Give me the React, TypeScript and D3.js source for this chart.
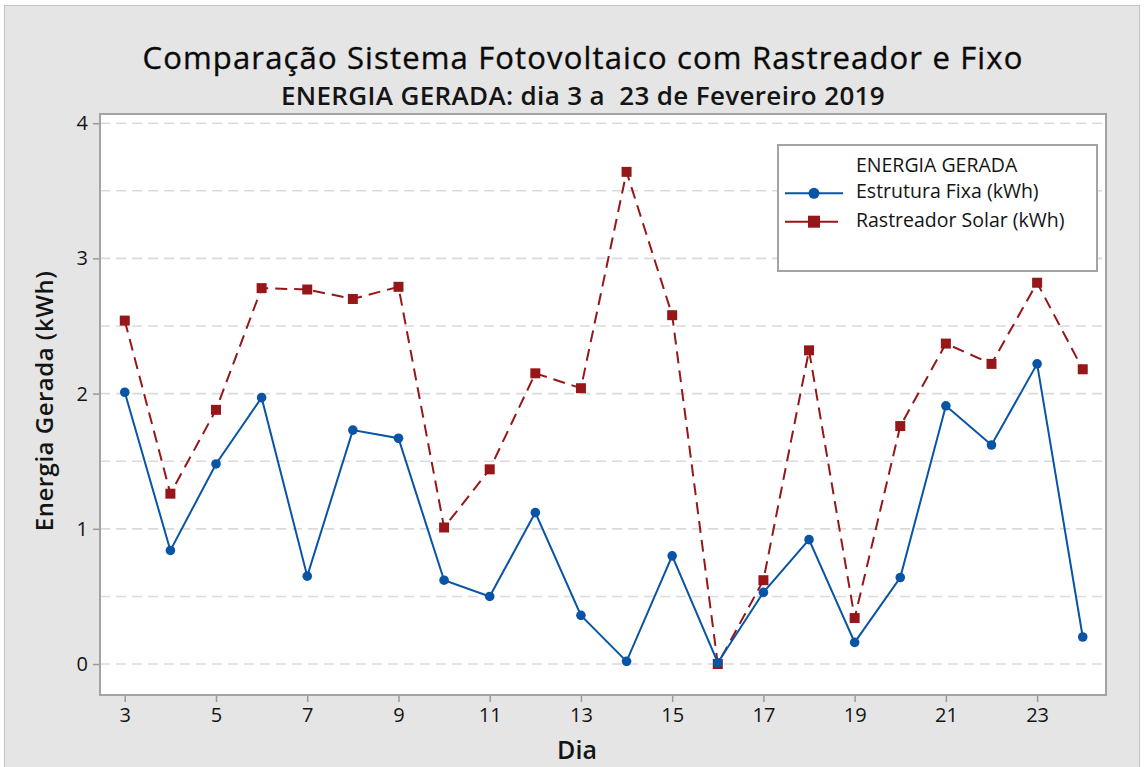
import { useEffect, useRef } from "react";
import * as d3 from "d3";

// ── data (kWh per day) ──────────────────────────────────────────────────────
const DAYS = [3, 4, 5, 6, 7, 8, 9, 10, 11, 12, 13, 14, 15, 16, 17, 18, 19, 20, 21, 22, 23, 24];
const FIXA = [2.01, 0.84, 1.48, 1.97, 0.65, 1.73, 1.67, 0.62, 0.5, 1.12, 0.36, 0.02, 0.8, 0.01, 0.53, 0.92, 0.16, 0.64, 1.91, 1.62, 2.22, 0.2];
const RASTREADOR = [2.54, 1.26, 1.88, 2.78, 2.77, 2.7, 2.79, 1.01, 1.44, 2.15, 2.04, 3.64, 2.58, 0.0, 0.62, 2.32, 0.34, 1.76, 2.37, 2.22, 2.82, 2.18];
const X_TICKS = [3, 5, 7, 9, 11, 13, 15, 17, 19, 21, 23];
const Y_TICKS = [0, 1, 2, 3, 4];
const GRID = [0, 0.5, 1, 1.5, 2, 2.5, 3, 3.5, 4];

const TITLE = "Comparação Sistema Fotovoltaico com Rastreador e Fixo";
const SUBTITLE = "ENERGIA GERADA: dia 3 a\u00a0 23 de Fevereiro 2019";
const LEGEND_TITLE = "ENERGIA GERADA";
const SERIES = [
  { name: "Estrutura Fixa (kWh)", values: FIXA, color: "#0954a5", dash: null, marker: "circle" },
  { name: "Rastreador Solar (kWh)", values: RASTREADOR, color: "#971619", dash: "12,7", marker: "square" },
];

const W = 1144;
const H = 767;
const P = { left: 100, right: 1106, top: 114, bottom: 695 };
const FONT = "'Open Sans', 'Noto Sans', sans-serif";
const INK = "#141414";

export default function App() {
  const svgRef = useRef<SVGSVGElement | null>(null);

  useEffect(() => {
    if (!svgRef.current) return;
    const svg = d3.select(svgRef.current);
    svg.selectAll("*").remove();

    const x = d3.scaleLinear().domain([2.457, 24.51]).range([P.left, P.right]);
    const y = d3.scaleLinear().domain([-0.229, 4.068]).range([P.bottom, P.top]);

    // background
    svg.append("rect").attr("width", W).attr("height", H).attr("fill", "#ffffff");
    svg.append("rect")
      .attr("x", 4.5).attr("y", 5.5).attr("width", 1135).attr("height", H)
      .attr("fill", "#e5e5e5").attr("stroke", "#c4c4c4");

    // plot area
    svg.append("rect")
      .attr("x", P.left).attr("y", P.top)
      .attr("width", P.right - P.left).attr("height", P.bottom - P.top)
      .attr("fill", "#ffffff");

    svg.append("g").selectAll("line")
      .data(GRID)
      .join("line")
      .attr("x1", P.left).attr("x2", P.right)
      .attr("y1", d => y(d)).attr("y2", d => y(d))
      .attr("stroke", "#dadada").attr("stroke-width", 1.6)
      .attr("stroke-dasharray", "10,6");

    // axes
    const styleAxis = (sel: any) => {
      sel.select(".domain").remove();
      sel.selectAll("line").attr("stroke", "#9a9a9a").attr("stroke-width", 1.5);
      sel.selectAll("text")
        .attr("fill", INK).attr("font-size", 20)
        .attr("font-family", FONT);
    };

    svg.append("g")
      .attr("transform", `translate(0,${P.bottom})`)
      .call(d3.axisBottom(x).tickValues(X_TICKS).tickSize(7).tickPadding(6).tickFormat(d3.format("d")))
      .call(styleAxis);

    svg.append("g")
      .attr("transform", `translate(${P.left},0)`)
      .call(d3.axisLeft(y).tickValues(Y_TICKS).tickSize(7).tickPadding(5).tickFormat(d3.format("d")))
      .call(styleAxis);

    // frame
    svg.append("rect")
      .attr("x", P.left).attr("y", P.top)
      .attr("width", P.right - P.left).attr("height", P.bottom - P.top)
      .attr("fill", "none").attr("stroke", "#a3a3a3").attr("stroke-width", 2);

    // series
    const line = d3.line<number>()
      .x((_, i) => x(DAYS[i]))
      .y(d => y(d));

    for (const s of [...SERIES].reverse()) {
      const g = svg.append("g");
      g.append("path")
        .attr("d", line(s.values))
        .attr("fill", "none").attr("stroke", s.color).attr("stroke-width", 2)
        .attr("stroke-dasharray", s.dash);
      if (s.marker === "circle") {
        g.selectAll("circle").data(s.values).join("circle")
          .attr("cx", (_, i) => x(DAYS[i])).attr("cy", d => y(d))
          .attr("r", 4.8).attr("fill", s.color);
      } else {
        g.selectAll("rect").data(s.values).join("rect")
          .attr("x", (_, i) => x(DAYS[i]) - 5).attr("y", d => y(d) - 5)
          .attr("width", 10).attr("height", 10).attr("fill", s.color);
      }
    }

    // titles
    svg.append("text")
      .attr("x", 583).attr("y", 69).attr("text-anchor", "middle")
      .attr("font-family", FONT).attr("font-size", 31)
      .attr("letter-spacing", 1.15).attr("fill", "#0a0a0a")
      .attr("stroke", "#0a0a0a").attr("stroke-width", 0.35)
      .text(TITLE);
    svg.append("text")
      .attr("x", 583).attr("y", 105).attr("text-anchor", "middle")
      .attr("font-family", FONT).attr("font-size", 26).attr("letter-spacing", 0.35)
      .attr("font-weight", 600).attr("fill", INK)
      .text(SUBTITLE);

    svg.append("text")
      .attr("x", 577).attr("y", 759).attr("text-anchor", "middle")
      .attr("font-family", FONT).attr("font-size", 25).attr("font-weight", 600).attr("fill", INK)
      .text("Dia");
    svg.append("text")
      .attr("transform", `translate(53,401) rotate(-90)`)
      .attr("text-anchor", "middle")
      .attr("font-family", FONT).attr("font-size", 24).attr("letter-spacing", 0.5)
      .attr("font-weight", 600).attr("fill", INK)
      .text("Energia Gerada (kWh)");

    // legend
    const lg = svg.append("g");
    lg.append("rect")
      .attr("x", 778).attr("y", 145).attr("width", 319).attr("height", 126)
      .attr("fill", "#ffffff").attr("stroke", "#a3a3a3").attr("stroke-width", 2);
    lg.append("text")
      .attr("x", 856).attr("y", 171.5)
      .attr("font-family", FONT).attr("font-size", 19.5).attr("fill", INK)
      .text(LEGEND_TITLE);
    SERIES.forEach((s, i) => {
      const cy = 193.3 + i * 28.4;
      lg.append("line")
        .attr("x1", 785).attr("x2", s.marker === "circle" ? 843 : 838)
        .attr("y1", cy).attr("y2", cy)
        .attr("stroke", s.color).attr("stroke-width", 2);
      if (s.marker === "circle") {
        lg.append("circle").attr("cx", 814).attr("cy", cy).attr("r", 5.5).attr("fill", s.color);
      } else {
        lg.append("rect").attr("x", 808).attr("y", cy - 6).attr("width", 12).attr("height", 12).attr("fill", s.color);
      }
      lg.append("text")
        .attr("x", 856).attr("y", cy + 5)
        .attr("font-family", FONT).attr("font-size", 19.5).attr("fill", INK)
        .text(s.name);
    });
  }, []);

  return (
    <div style={{ position: "fixed", left: 0, top: 0 }}>
      <svg ref={svgRef} width={W} height={H} style={{ display: "block" }} />
    </div>
  );
}
